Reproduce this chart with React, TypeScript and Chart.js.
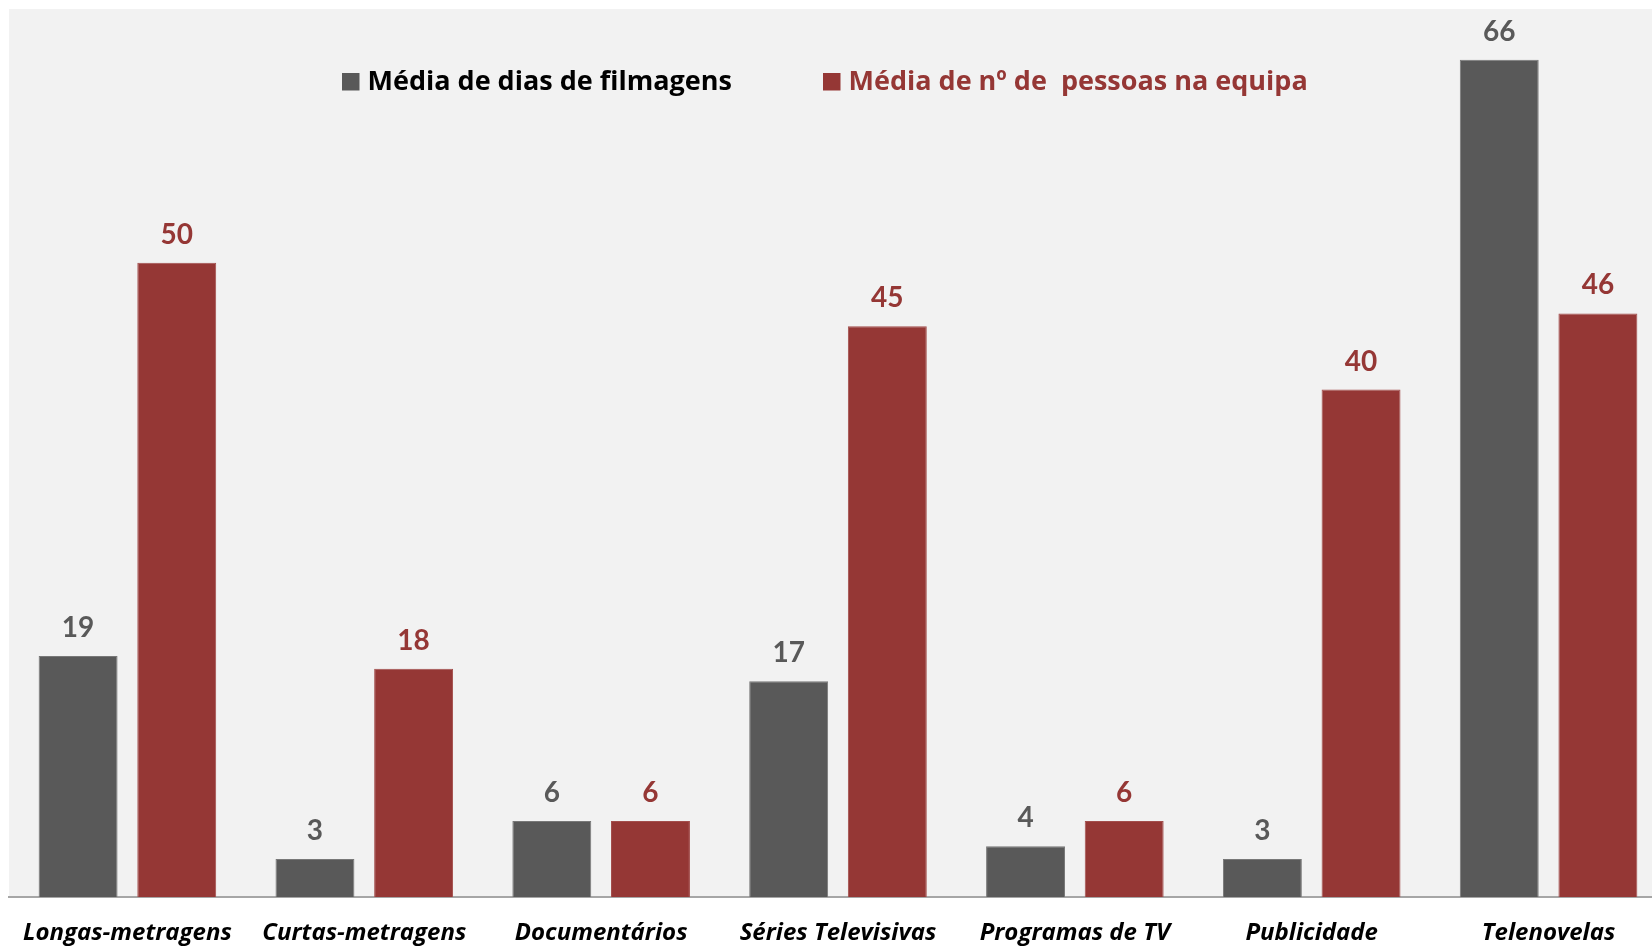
import React, { useEffect, useRef } from "react";
import { Chart, registerables } from "chart.js";

Chart.register(...registerables);

const categories = [
  "Longas-metragens",
  "Curtas-metragens",
  "Documentários",
  "Séries Televisivas",
  "Programas de TV",
  "Publicidade",
  "Telenovelas",
];
const seriesNames = ["Média de dias de filmagens", "Média de nº de  pessoas na equipa"];
const diasFilmagens = [19, 3, 6, 17, 4, 3, 66];
const pessoasEquipa = [50, 18, 6, 45, 6, 40, 46];

const GRAY = "#595959";
const RED = "#953735";
const FONT = "Lato, 'Open Sans', sans-serif";
const TEXT_FONT = "'Open Sans', Lato, sans-serif";

const panelPlugin = {
  id: "panelBg",
  beforeDraw(chart: any) {
    const { ctx, chartArea } = chart;
    ctx.save();
    ctx.fillStyle = "#f2f2f2";
    ctx.fillRect(chartArea.left, chartArea.top, chartArea.right - chartArea.left, chartArea.bottom - chartArea.top);
    ctx.restore();
  },
};

const valueLabelPlugin = {
  id: "valueLabels",
  afterDatasetsDraw(chart: any) {
    const { ctx } = chart;
    const colors = [GRAY, RED];
    ctx.save();
    ctx.font = `bold 28px ${FONT}`;
    ctx.textAlign = "center";
    ctx.textBaseline = "alphabetic";
    chart.data.datasets.forEach((ds: any, i: number) => {
      const meta = chart.getDatasetMeta(i);
      ctx.fillStyle = colors[i];
      meta.data.forEach((bar: any, j: number) => {
        ctx.fillText(String(ds.data[j]), bar.x, bar.y - 19);
      });
    });
    ctx.restore();
  },
};

const legendPlugin = {
  id: "customLegend",
  afterDraw(chart: any) {
    const { ctx } = chart;
    const xs = [342, 823];
    const textColors = ["#000000", RED];
    const top = 73;
    const box = 17.5;
    ctx.save();
    ctx.font = `bold 27px ${TEXT_FONT}`;
    ctx.textAlign = "left";
    ctx.textBaseline = "alphabetic";
    chart.data.datasets.forEach((ds: any, i: number) => {
      ctx.fillStyle = ds.backgroundColor;
      ctx.fillRect(xs[i], top, box, box);
      ctx.fillStyle = textColors[i];
      ctx.fillText(ds.label, xs[i] + box + 8, 90);
    });
    ctx.restore();
  },
};

export default function App() {
  const canvasRef = useRef<HTMLCanvasElement | null>(null);

  useEffect(() => {
    if (!canvasRef.current) return;
    const chart = new Chart(canvasRef.current, {
      type: "bar",
      data: {
        labels: categories,
        datasets: [
          {
            label: seriesNames[0],
            data: diasFilmagens,
            backgroundColor: GRAY,
            borderColor: "#787878",
            borderWidth: 1,
            barPercentage: 0.8,
            categoryPercentage: 0.833,
          },
          {
            label: seriesNames[1],
            data: pessoasEquipa,
            backgroundColor: RED,
            borderColor: "#a34e4c",
            borderWidth: 1,
            barPercentage: 0.8,
            categoryPercentage: 0.833,
          },
        ],
      },
      options: {
        responsive: false,
        animation: false,
        devicePixelRatio: 1,
        layout: { padding: { left: 9, right: 1, top: 9, bottom: 0 } },
        plugins: {
          legend: { display: false },
          tooltip: { enabled: false },
        },
        scales: {
          x: {
            grid: { display: false, drawTicks: false },
            border: { display: true, color: "#a6a6a6", width: 2 },
            ticks: {
              color: "#000000",
              padding: 22,
              maxRotation: 0,
              autoSkip: false,
              font: { family: TEXT_FONT, size: 24, style: "italic", weight: "bold" },
            },
            afterFit: (scale: any) => {
              scale.height = 49;
            },
          },
          y: {
            display: false,
            min: 0,
            max: 70,
          },
        },
      },
      plugins: [panelPlugin, valueLabelPlugin, legendPlugin],
    });
    return () => chart.destroy();
  }, []);

  return (
    <div
      style={{
        position: "fixed",
        left: 0,
        top: 0,
        width: 1652,
        height: 946,
        overflow: "hidden",
        background: "#ffffff",
      }}
    >
      <canvas ref={canvasRef} width={1668} height={946} style={{ display: "block" }} />
    </div>
  );
}
